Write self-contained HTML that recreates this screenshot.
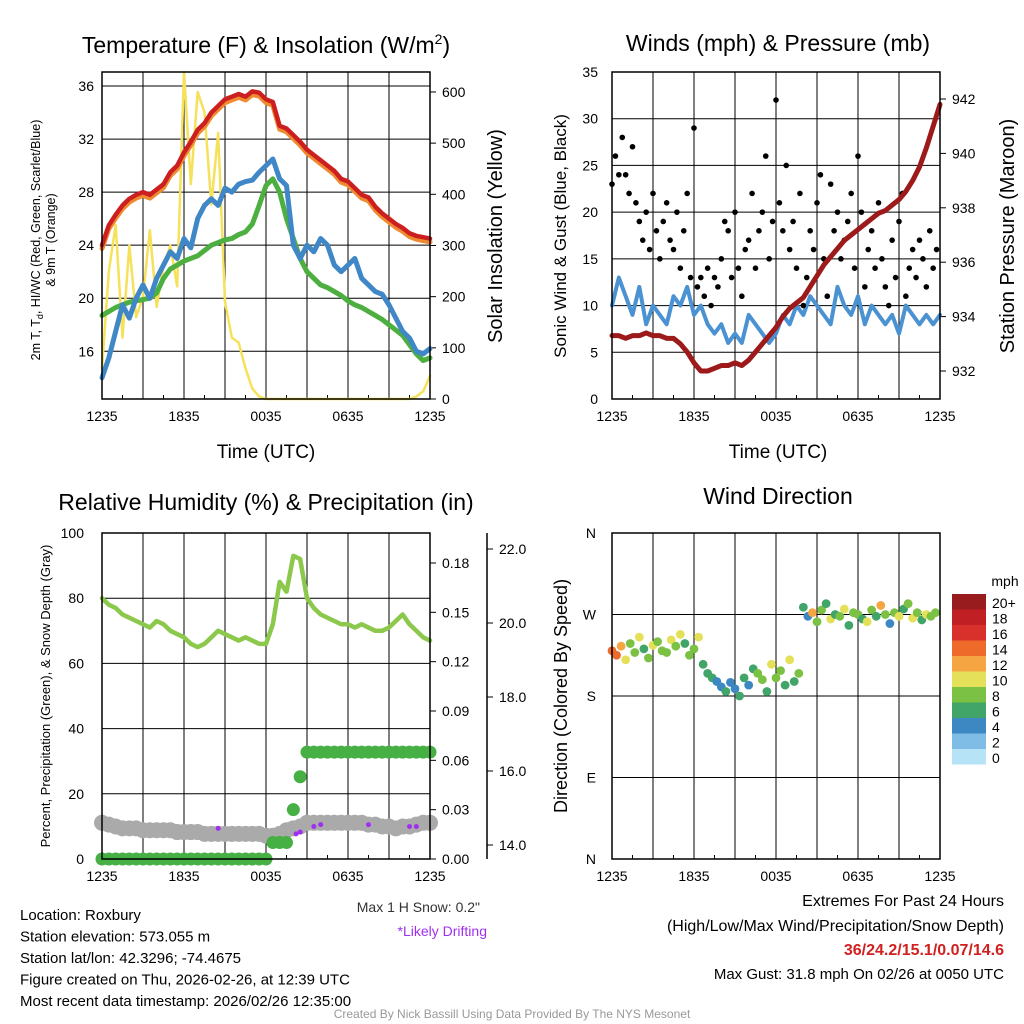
<!DOCTYPE html>
<html><head><meta charset="utf-8"><style>
html,body{margin:0;padding:0;background:#fff}
svg{display:block;font-family:"Liberation Sans",sans-serif}
</style></head><body>
<svg id="s" width="1024" height="1024" viewBox="0 0 1024 1024" xmlns="http://www.w3.org/2000/svg">
<g id="g"></g>
</svg>
<script>
// ---------- data ----------
const timeLabels = ["1235","1835","0035","0635","1235"];
const tempRed = [24.0,25.5,26.3,27,27.5,27.8,28,27.8,28.2,28.6,29.5,30,31,31.8,32.7,33.2,34,34.5,35,35.2,35.4,35.2,35.6,35.5,35,34.8,33,32.8,32.3,31.8,31.2,30.8,30.4,30,29.6,29,28.8,28.3,27.8,27.6,26.9,26.4,26,25.6,25.3,24.9,24.7,24.6,24.5];
const dewGreen = [18.7,19.0,19.3,19.5,19.7,19.8,19.9,20,20.4,21.5,22.2,22.5,22.8,23,23.2,23.6,24,24.2,24.4,24.5,24.8,25,25.6,27,28.5,29,28,26,24.5,23,22,21.5,21,20.8,20.5,20.2,19.8,19.5,19.3,19,18.7,18.4,18,17.6,17.2,16.5,15.8,15.3,15.5];
const wcBlue = [14,15.5,17.5,19.5,18.5,20,21,20,21.5,22.5,23.5,23,24.5,23.8,26,27,27.5,27,28.3,28,28.6,28.8,28.9,29.5,30,30.5,29,28.5,24,23,24,23.5,24.5,24,22.5,22,22.5,23,21.5,21,20.5,20.3,19.5,18.5,17.5,17,16,15.8,16.2];
const solar = [60,250,340,120,300,160,200,330,180,260,300,220,640,420,600,560,380,520,190,120,110,60,20,5,0,0,0,0,0,0,0,0,0,0,0,0,0,0,0,0,0,0,0,0,0,0,5,15,45];
const windSonic = [10,13,11,9,12,8,10,9,8,11,10,12,9,10,8,7,8,6,7,6,9,8,7,6,7,9,8,10,9,11,10,9,8,12,10,9,11,8,10,9,8,9,7,10,9,8,9,8,9];
const gust = [23,26,24,28,24,22,27,21,19,17,20,16,22,18,15,19,21,17,16,20,14,18,22,13,29,12,13,11,14,10,13,12,15,19,18,13,20,14,11,16,17,22,14,18,20,26,15,19,32,21,18,25,16,19,14,22,10,13,18,16,21,24,15,11,23,18,20,15,17,19,22,14,26,20,12,16,18,14,21,15,12,10,17,13,19,22,11,14,16,13,17,15,12,18,14,16];
const pressure = [933.3,933.3,933.2,933.3,933.3,933.4,933.3,933.3,933.2,933.2,933.0,932.7,932.3,932.0,932.0,932.1,932.2,932.2,932.3,932.2,932.4,932.7,933.0,933.3,933.6,934.0,934.3,934.5,934.7,935.1,935.5,935.9,936.2,936.5,936.8,937.0,937.2,937.4,937.6,937.8,937.9,938.1,938.3,938.6,939.0,939.5,940.2,941.0,941.8];
const rh = [80,78,77,75,74,73,72,71,73,72,70,69,68,66,65,66,68,70,69,68,67,68,67,66,66,72,85,82,93,92,80,77,75,74,73,72,72,71,72,71,70,70,71,73,75,72,70,68,67];
const precip = [0,0,0,0,0,0,0,0,0,0,0,0,0,0,0,0,0,0,0,0,0,0,0,0,0,0.01,0.01,0.01,0.03,0.05,0.065,0.065,0.065,0.065,0.065,0.065,0.065,0.065,0.065,0.065,0.065,0.065,0.065,0.065,0.065,0.065,0.065,0.065,0.065];
const snow = [14.6,14.55,14.5,14.45,14.45,14.45,14.4,14.4,14.4,14.4,14.4,14.35,14.35,14.35,14.35,14.3,14.3,14.3,14.3,14.3,14.3,14.3,14.3,14.3,14.25,14.25,14.3,14.4,14.45,14.5,14.6,14.6,14.6,14.6,14.6,14.6,14.6,14.6,14.6,14.55,14.55,14.5,14.5,14.45,14.5,14.5,14.55,14.6,14.6];
const drift = [[8.5,14.45],[14.2,14.3],[14.5,14.35],[15.5,14.5],[16,14.55],[19.5,14.55],[22.5,14.5],[23,14.5]];
const windDir = [230,225,235,220,238,228,245,232,222,236,240,230,228,242,235,248,238,225,232,245,215,205,200,196,190,185,195,188,180,200,192,210,205,198,185,215,200,208,192,220,196,205,278,268,272,262,275,282,265,270,268,276,258,272,270,265,262,275,268,280,270,260,272,268,276,282,266,272,264,270,268,272];
const dirSpeed = [14,15,12,10,9,8,10,7,9,11,8,9,8,10,9,11,7,8,9,10,7,6,6,5,5,6,4,5,6,7,5,6,8,9,7,10,8,9,7,10,6,8,6,5,12,9,8,7,10,6,8,11,7,9,8,6,10,9,7,12,8,5,9,10,7,8,11,9,6,10,8,9];
const barLabels = ["20+","18","16","14","12","10","8","6","4","2","0"];
const barColors = ["#981b1e","#c01f24","#d8302a","#ee6a2a","#f5a542","#e5e05a","#7bc144","#41a56a","#3d87c3","#7fbde6","#b6e3f5"];

// ---------- helpers ----------
const NS="http://www.w3.org/2000/svg", G=document.getElementById('g');
function el(t,a,p){const e=document.createElementNS(NS,t);for(const k in a)e.setAttribute(k,a[k]);(p||G).appendChild(e);return e;}
function txt(x,y,s,size,anchor,extra){const e=el('text',Object.assign({x:x,y:y,'font-size':size,'text-anchor':anchor||'middle',fill:'#000'},extra||{}));e.textContent=s;return e;}
function lin(d0,d1,r0,r1){return v=>r0+(v-d0)/(d1-d0)*(r1-r0);}
function colorFor(s){let i=Math.min(10,Math.floor(s/2));return barColors[10-i];}

function frame(x0,y0,x1,y1,name){
  const g=el('g',{});  
  const X=lin(0,24,x0,x1);
  for(let h=3;h<24;h+=3) el('line',{x1:X(h),x2:X(h),y1:y0,y2:y1,stroke:'#000','stroke-width':1},g);
  for(let h=0;h<=24;h+=1.5){const len=(h%6===0)?8:4;el('line',{x1:X(h),x2:X(h),y1:y1,y2:y1-len,stroke:'#000'},g);}
  timeLabels.forEach((l,i)=>{const t=txt(X(i*6),y1+22,l,14);});
  return {g,X};
}
function box(x0,y0,x1,y1){el('rect',{x:x0,y:y0,width:x1-x0,height:y1-y0,fill:'none',stroke:'#000','stroke-width':1.5});}
function poly(arr,X,Y,color,w,name){const p=el('polyline',{points:arr.map((v,i)=>X(i*0.5)+','+Y(v)).join(' '),fill:'none',stroke:color,'stroke-width':w,'stroke-linejoin':'round','stroke-linecap':'round'});return p;}

// ---------- Panel 1 ----------
(function(){
 const x0=102,y0=72,x1=430,y1=399;
 const {X}=frame(x0,y0,x1,y1,'temperature-panel');
 const Y=lin(12.4,37.06,y1,y0), YS=lin(0,639,y1,y0);
 [16,20,24,28,32,36].forEach(v=>{el('line',{x1:x0,x2:x1,y1:Y(v),y2:Y(v),stroke:'#000'});const t=txt(x0-8,Y(v)+5,String(v),14,'end');});
 [0,100,200,300,400,500,600].forEach(v=>{el('line',{x1:x1,x2:x1+6,y1:YS(v),y2:YS(v),stroke:'#000'});txt(x1+12,YS(v)+5,String(v),14,'start');});
 poly(solar.map(v=>Math.min(v,639)),X,YS,'#f5e15a',2.5,'solar-insolation-line');
 poly(dewGreen,X,Y,'#4caf40',5,'dewpoint-line');
 poly(wcBlue,X,Y,'#3f87c6',5,'windchill-line');
 poly(tempRed.map(v=>v-0.25),X,Y,'#f08a30',5,'temp-9m-line');
 poly(tempRed,X,Y,'#cc2020',4.5,'temp-2m-line');
 box(x0,y0,x1,y1);
 const t=el('text',{x:266,y:53,'font-size':23,'text-anchor':'middle'});t.innerHTML='Temperature (F) &amp; Insolation (W/m<tspan dy="-9" font-size="14">2</tspan><tspan dy="9">)</tspan>';
 
 txt(266,458,'Time (UTC)',19);
 const l1=txt(0,0,'2m T, T',12.5,'middle',{transform:'translate(40,240) rotate(-90)'});l1.innerHTML='2m T, T<tspan font-size="9" dy="3">d</tspan><tspan dy="-3">, HI/WC (Red, Green, Scarlet/Blue)</tspan>';
 txt(0,0,'& 9m T (Orange)',12.5,'middle',{transform:'translate(55,240) rotate(-90)'});
 txt(0,0,'Solar Insolation (Yellow)',20,'middle',{transform:'translate(502,236) rotate(-90)'});
})();

// ---------- Panel 2 ----------
(function(){
 const x0=612,y0=72,x1=940,y1=399;
 const {X}=frame(x0,y0,x1,y1,'winds-panel');
 const Y=lin(0,35,y1,y0), YP=lin(932,942,371,99);
 [0,5,10,15,20,25,30,35].forEach(v=>{if(v>0&&v<35)el('line',{x1:x0,x2:x1,y1:Y(v),y2:Y(v),stroke:'#000'});txt(x0-14,Y(v)+5,String(v),14,'end');});
 [932,934,936,938,940,942].forEach(v=>{el('line',{x1:x1,x2:x1+6,y1:YP(v),y2:YP(v),stroke:'#000'});txt(x1+12,YP(v)+5,String(v),14,'start');});
 poly(windSonic,X,Y,'#4a92d2',4,'sonic-wind-line');
 gust.forEach((v,i)=>{const c=el('circle',{cx:X(i*0.25),cy:Y(v),r:2.8,fill:'#000'});});
 poly(pressure,X,YP,'#9c1a1a',5,'pressure-line');
 box(x0,y0,x1,y1);
 txt(778,51,'Winds (mph) & Pressure (mb)',23);
 txt(778,458,'Time (UTC)',19);
 txt(0,0,'Sonic Wind & Gust (Blue, Black)',17,'middle',{transform:'translate(566,236) rotate(-90)'});
 txt(0,0,'Station Pressure (Maroon)',20,'middle',{transform:'translate(1014,236) rotate(-90)'});
})();

// ---------- Panel 3 ----------
(function(){
 const x0=102,y0=533,x1=430,y1=859;
 const {X}=frame(x0,y0,x1,y1,'humidity-panel');
 const Y=lin(0,100,y1,y0), YR=lin(0,0.18,y1,563), YS=lin(14,22,845,549);
 [0,20,40,60,80,100].forEach(v=>{if(v>0&&v<100)el('line',{x1:x0,x2:x1,y1:Y(v),y2:Y(v),stroke:'#000'});txt(x0-18,Y(v)+5,String(v),14,'end');});
 [0,0.03,0.06,0.09,0.12,0.15,0.18].forEach(v=>{el('line',{x1:x1,x2:x1+6,y1:YR(v),y2:YR(v),stroke:'#000'});txt(x1+12,YR(v)+5,v.toFixed(2),14,'start');});
 el('line',{x1:487,x2:487,y1:533,y2:859,stroke:'#000','stroke-width':1.5});
 [14,16,18,20,22].forEach(v=>{el('line',{x1:487,x2:493,y1:YS(v),y2:YS(v),stroke:'#000'});txt(499,YS(v)+5,v.toFixed(1),14,'start');});
 snow.forEach((v,i)=>{const c=el('circle',{cx:X(i*0.5),cy:YS(v),r:8,fill:'#aaaaaa'});});
 precip.forEach((v,i)=>{const c=el('circle',{cx:X(i*0.5),cy:YR(v),r:6.5,fill:'#46b045'});});
 drift.forEach(d=>{const c=el('circle',{cx:X(d[0]),cy:YS(d[1]),r:2.5,fill:'#a030f0'});});
 poly(rh,X,Y,'#8cc84b',4.5,'rh-line');
 box(x0,y0,x1,y1);
 txt(266,510,'Relative Humidity (%) & Precipitation (in)',23);
 txt(0,0,'Percent, Precipitation (Green), & Snow Depth (Gray)',13,'middle',{transform:'translate(50,696) rotate(-90)'});
 txt(480,912,'Max 1 H Snow: 0.2"',14,'end',{fill:'#333'});
 txt(487,936,'*Likely Drifting',14,'end',{fill:'#a030f0'});
})();

// ---------- Panel 4 ----------
(function(){
 const x0=612,y0=533,x1=940,y1=859;
 const {X}=frame(x0,y0,x1,y1,'direction-panel');
 const Y=lin(0,360,y1,y0);
 [['N',0],['E',90],['S',180],['W',270],['N',360]].forEach(([l,v])=>{if(v>0&&v<360)el('line',{x1:x0,x2:x1,y1:Y(v),y2:Y(v),stroke:'#000'});txt(x0-16,Y(v)+5,l,14,'end');});
 windDir.forEach((v,i)=>{const c=el('circle',{cx:X(i/3),cy:Y(v),r:4.4,fill:colorFor(dirSpeed[i])});});
 box(x0,y0,x1,y1);
 txt(778,504,'Wind Direction',23);
 txt(0,0,'Direction (Colored By Speed)',18,'middle',{transform:'translate(567,696) rotate(-90)'});
 txt(1005,586,'mph',14,'middle');
 barColors.forEach((c,i)=>{const r=el('rect',{x:952,y:594+i*15.5,width:34,height:15.5,fill:c});txt(992,608+i*15.5,barLabels[i],14,'start');});
})();

// ---------- footer ----------
["Location: Roxbury","Station elevation: 573.055 m","Station lat/lon: 42.3296; -74.4675","Figure created on Thu, 2026-02-26, at 12:39 UTC","Most recent data timestamp: 2026/02/26 12:35:00"].forEach((s,i)=>txt(20,920+i*21.5,s,15,'start'));
txt(1004,906,'Extremes For Past 24 Hours',16,'end');
txt(1004,931,'(High/Low/Max Wind/Precipitation/Snow Depth)',16,'end');
txt(1004,955,'36/24.2/15.1/0.07/14.6',16,'end',{fill:'#d02020','font-weight':'bold'});
txt(1004,979,'Max Gust: 31.8 mph On 02/26 at 0050 UTC',15,'end');
txt(512,1018,'Created By Nick Bassill Using Data Provided By The NYS Mesonet',12,'middle',{fill:'#999'});
</script>
</body></html>
